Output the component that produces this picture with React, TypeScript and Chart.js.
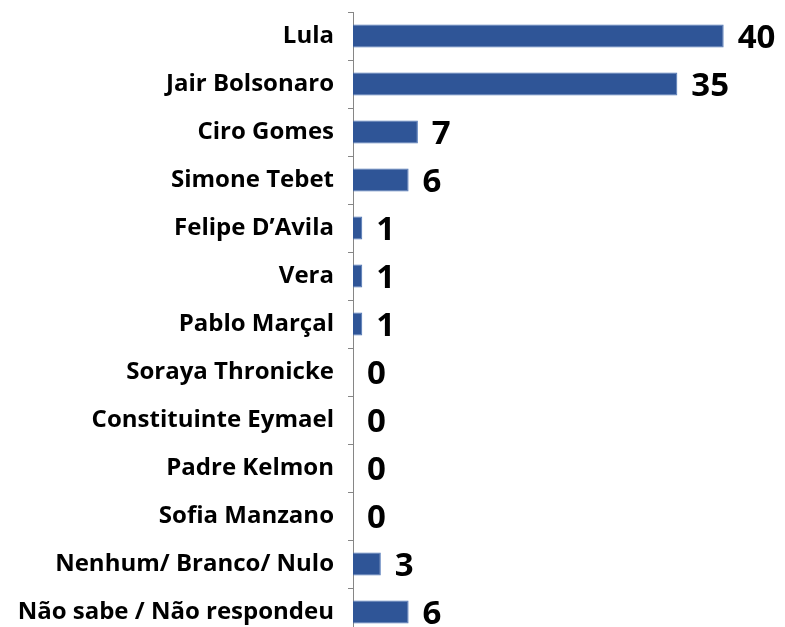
import React, { useEffect, useRef } from "react";
import { Chart, registerables } from "chart.js";

Chart.register(...registerables);

const categories = [
  "Lula",
  "Jair Bolsonaro",
  "Ciro Gomes",
  "Simone Tebet",
  "Felipe D\u2019Avila",
  "Vera",
  "Pablo Mar\u00e7al",
  "Soraya Thronicke",
  "Constituinte Eymael",
  "Padre Kelmon",
  "Sofia Manzano",
  "Nenhum/ Branco/ Nulo",
  "N\u00e3o sabe / N\u00e3o respondeu",
];
const values = [40, 35, 7, 6, 1, 1, 1, 0, 0, 0, 0, 3, 6];

const valueLabels = {
  id: "valueLabels",
  afterDatasetsDraw(chart: any) {
    const ctx = chart.ctx;
    const meta = chart.getDatasetMeta(0);
    ctx.save();
    ctx.font = "bold 33px 'Open Sans'";
    ctx.fillStyle = "#000000";
    ctx.textAlign = "left";
    ctx.textBaseline = "middle";
    meta.data.forEach((el: any, i: number) => {
      ctx.fillText(String(values[i]), el.x + 14, el.y + 3);
    });
    ctx.restore();
  },
};

export default function App() {
  const ref = useRef<HTMLCanvasElement>(null);
  useEffect(() => {
    if (!ref.current) return;
    const chart = new Chart(ref.current, {
      type: "bar",
      data: {
        labels: categories,
        datasets: [
          {
            data: values,
            backgroundColor: "#2F5597",
            borderColor: "#4C74B5",
            borderWidth: 1,
            barPercentage: 0.48,
            categoryPercentage: 1,
          },
        ],
      },
      options: {
        indexAxis: "y",
        responsive: false,
        animation: false,
        layout: { padding: { top: 12, bottom: 9, left: 0, right: 15 } },
        plugins: { legend: { display: false }, tooltip: { enabled: false } },
        scales: {
          x: { display: false, min: 0, max: 45 },
          y: {
            afterFit(scale: any) {
              scale.width = 353;
              scale.paddingTop = 0;
              scale.paddingBottom = 0;
            },
            border: { display: true, color: "#868686", width: 1 },
            grid: {
              drawOnChartArea: false,
              drawTicks: true,
              tickLength: 5,
              color: "#868686",
            },
            ticks: {
              padding: 14,
              color: "#000000",
              font: { family: "'Open Sans'", weight: "bold", size: 24 },
            },
          },
        },
      },
      plugins: [valueLabels],
    });
    return () => chart.destroy();
  }, []);
  return (
    <div style={{ position: "fixed", left: 0, top: 0, width: 785, height: 645 }}>
      <canvas ref={ref} width={785} height={645} />
    </div>
  );
}
